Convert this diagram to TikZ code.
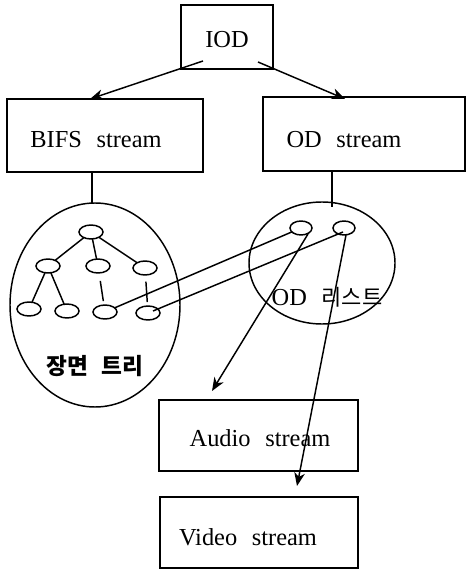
\documentclass[tikz,border=0pt]{standalone}
\usepackage{fontspec}
\setmainfont{Liberation Serif}[WordSpace=2.4]
\newfontfamily\cjk{Noto Sans CJK KR}[WordSpace=2.5]
\usetikzlibrary{arrows.meta,shapes.geometric}
\begin{document}
\begin{tikzpicture}[x=0.75pt,y=-0.75pt,
  every node/.style={inner sep=0pt, outer sep=0pt},
  line/.style={line width=1.1pt, draw=black},
  streambox/.style={line, rectangle},
  caption/.style={font=\fontsize{18.3}{21}\selectfont},
  bigoval/.style={line, ellipse},
  leaf/.style={line, ellipse, minimum width=18pt, minimum height=10.5pt},
  odleaf/.style={line, ellipse, minimum width=16.5pt, minimum height=10.5pt},
  link/.style={line width=1.1pt},
  arrow/.style={link, -{Stealth[length=10pt,width=8pt,inset=3pt]}},
  hangul/.style={font=\cjk\bfseries\fontsize{17}{20}\selectfont}
]
\useasboundingbox (0,0) rectangle (466,570);

% stream boxes
\node[streambox, minimum width=69pt, minimum height=48pt] (iod) at (227,37) {};
\node[streambox, minimum width=147pt, minimum height=54.75pt] (bifs) at (105,135.5) {};
\node[streambox, minimum width=151.5pt, minimum height=55.5pt] (ods) at (364,134) {};
\node[streambox, minimum width=149.25pt, minimum height=53.25pt] (audio) at (258.5,435.5) {};
\node[streambox, minimum width=148.5pt, minimum height=53.25pt] (video) at (259,532.5) {};

% box captions
\node[caption] (iodtext) at (227,40) {IOD};
\node[caption] (bifstext) at (96,140) {BIFS stream};
\node[caption] (odstext) at (344,140) {OD stream};
\node[caption] (audiotext) at (260,438) {Audio stream};
\node[caption] (videotext) at (248,537) {Video stream};

% scene tree and OD list
\node[bigoval, minimum width=127.5pt, minimum height=153pt] (scene) at (95,305) {};
\node[bigoval, minimum width=109.5pt, minimum height=91.5pt] (odlist) at (322,263) {};
\node[hangul] (scenelabel) at (95,366) {장면 트리};
\node[caption] (odlabel) at (327,297) {OD {\cjk\fontsize{16.5}{19}\selectfont 리스트}};

% tree nodes
\node[leaf] (root) at (91,232) {};
\node[leaf] (m1) at (48,266) {};
\node[leaf] (m2) at (98,266) {};
\node[leaf] (m3) at (145,268) {};
\node[leaf] (l1) at (29,309) {};
\node[leaf] (l2) at (67,311) {};
\node[leaf] (l3) at (105,312) {};
\node[leaf] (l4) at (148,313) {};
\draw[link] (root) -- (m1);
\draw[link] (root) -- (m2);
\draw[link] (root) -- (m3);
\draw[link] (m1) -- (l1);
\draw[link] (m1) -- (l2);
\draw[link, shorten <=6pt, shorten >=3pt] (m2) -- (l3);
\draw[link, shorten <=5pt, shorten >=3pt] (m3) -- (l4);

% OD list entries
\node[odleaf] (od1) at (301,228) {};
\node[odleaf] (od2) at (344,228) {};

% arrow anchors
\coordinate (iodl) at (203,61);
\coordinate (iodr) at (258,62);
\coordinate (bifsin) at (90,99);
\coordinate (odsin) at (345,99);
\coordinate (bifsout) at (92,172);
\coordinate (scenein) at (92,203);
\coordinate (odsout) at (332,172);
\coordinate (odlistin) at (332,207);
\coordinate (od1out) at (308,234);
\coordinate (od2out) at (346,235);
\coordinate (audioin) at (212,391);
\coordinate (videoin) at (297,486);
\coordinate (l4c) at (153,311);
\coordinate (od2c) at (343,232);

% connectors
\draw[arrow] (iodl) -- (bifsin);
\draw[arrow] (iodr) -- (odsin);
\draw[link] (bifsout) -- (scenein);
\draw[link] (odsout) -- (odlistin);
\draw[link] (l3) -- (od1);
\draw[link] (l4c) -- (od2c);
\draw[arrow] (od1out) -- (audioin);
\draw[arrow] (od2out) -- (videoin);
\end{tikzpicture}
\end{document}
